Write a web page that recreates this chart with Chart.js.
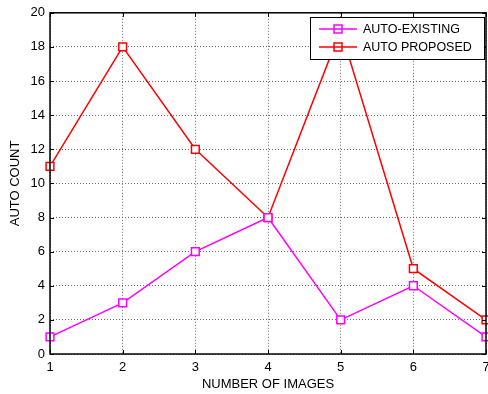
<!DOCTYPE html>
<html>
<head>
<meta charset="utf-8">
<script src="https://cdn.jsdelivr.net/npm/chart.js@4"></script>
<style>
  html, body { margin: 0; padding: 0; background: #fff; }
  #wrap { width: 488px; height: 394px; position: relative; overflow: hidden; }
</style>
</head>
<body>
<div id="wrap"><canvas id="myChart" width="498" height="394"></canvas></div>
<script>
// data
const imageCounts = ['1', '2', '3', '4', '5', '6', '7'];
const autoExisting = [1, 3, 6, 8, 2, 4, 1];
const autoProposed = [11, 18, 12, 8, 19, 5, 2];
const yTicks = [0, 2, 4, 6, 8, 10, 12, 14, 16, 18, 20];

const FONT = 'Liberation Sans, Arial, sans-serif';

// legend box drawn inside the plot, matlab style
const boxLegend = {
    id: 'boxLegend',
    afterDraw(chart) {
        const c = chart.ctx;
        const x0 = 310, y0 = 17, w = 174, h = 42;
        c.save();
        c.fillStyle = '#fff';
        c.fillRect(x0, y0, w, h);
        c.strokeStyle = '#000';
        c.lineWidth = 1;
        c.strokeRect(x0 + 0.5, y0 + 0.5, w, h);
        c.font = '12.5px ' + FONT;
        c.textBaseline = 'middle';
        chart.data.datasets.forEach((ds, i) => {
            const y = y0 + 12 + i * 18;
            c.strokeStyle = ds.borderColor;
            c.lineWidth = 1.5;
            c.beginPath();
            c.moveTo(x0 + 9, y);
            c.lineTo(x0 + 47, y);
            c.stroke();
            c.strokeRect(x0 + 24, y - 4, 8, 8);
            c.fillStyle = '#000';
            c.fillText(ds.label, x0 + 53, y + 1);
        });
        c.restore();
    }
};

// black frame with small inward ticks on all four sides
const frame = {
    id: 'frame',
    afterDatasetsDraw(chart) {
        const a = chart.chartArea;
        const c = chart.ctx;
        c.save();
        c.strokeStyle = '#000';
        c.lineWidth = 1.5;
        c.strokeRect(a.left, a.top, a.right - a.left, a.bottom - a.top);
        c.lineWidth = 1;
        const xs = chart.scales.x, ys = chart.scales.y;
        imageCounts.forEach((v, i) => {
            const px = Math.round(xs.getPixelForValue(i)) + 0.5;
            c.beginPath();
            c.moveTo(px, a.bottom); c.lineTo(px, a.bottom - 4);
            c.moveTo(px, a.top); c.lineTo(px, a.top + 4);
            c.stroke();
        });
        yTicks.forEach(v => {
            const py = Math.round(ys.getPixelForValue(v)) + 0.5;
            c.beginPath();
            c.moveTo(a.left, py); c.lineTo(a.left + 4, py);
            c.moveTo(a.right, py); c.lineTo(a.right - 4, py);
            c.stroke();
        });
        c.restore();
    }
};

const ctx = document.getElementById('myChart').getContext('2d');
const myChart = new Chart(ctx, {
    type: 'line',
    data: {
        labels: imageCounts,
        datasets: [{
            label: 'AUTO-EXISTING',
            data: autoExisting,
            borderColor: '#ff00ff',
            backgroundColor: '#ffffff',
            borderWidth: 1.5,
            pointStyle: 'rect',
            pointRadius: 5.5,
            pointBorderWidth: 1.5,
            tension: 0
        }, {
            label: 'AUTO PROPOSED',
            data: autoProposed,
            borderColor: '#ff0000',
            backgroundColor: '#ffffff',
            borderWidth: 1.5,
            pointStyle: 'rect',
            pointRadius: 5.5,
            pointBorderWidth: 1.5,
            tension: 0
        }]
    },
    options: {
        responsive: false,
        animation: false,
        clip: false,
        layout: { padding: { top: 12, right: 12, left: 0, bottom: 0 } },
        plugins: {
            legend: { display: false },
            tooltip: { enabled: false }
        },
        scales: {
            x: {
                offset: false,
                grid: { color: '#444', lineWidth: 0.8, drawTicks: false },
                border: { display: false, dash: [1, 2] },   // dash applies to grid lines in v4
                ticks: { color: '#000', font: { family: FONT, size: 13 }, padding: 6, maxRotation: 0 },
                title: { display: true, text: 'NUMBER OF IMAGES', color: '#000', font: { family: FONT, size: 13 }, padding: { top: 2, bottom: 2 } },
                afterFit(s) { s.height = 40; }
            },
            y: {
                min: 0,
                max: 20,
                afterBuildTicks(s) { s.ticks = yTicks.map(v => ({ value: v })); },
                grid: { color: '#444', lineWidth: 0.8, drawTicks: false },
                border: { display: false, dash: [1, 2] },
                ticks: { color: '#000', font: { family: FONT, size: 13 }, padding: 5 },
                title: { display: true, text: 'AUTO COUNT', color: '#000', font: { family: FONT, size: 13 }, padding: { top: 8, bottom: 4 } },
                afterFit(s) { s.width = 50; }
            }
        }
    },
    plugins: [frame, boxLegend]
});
</script>
</body>
</html>
